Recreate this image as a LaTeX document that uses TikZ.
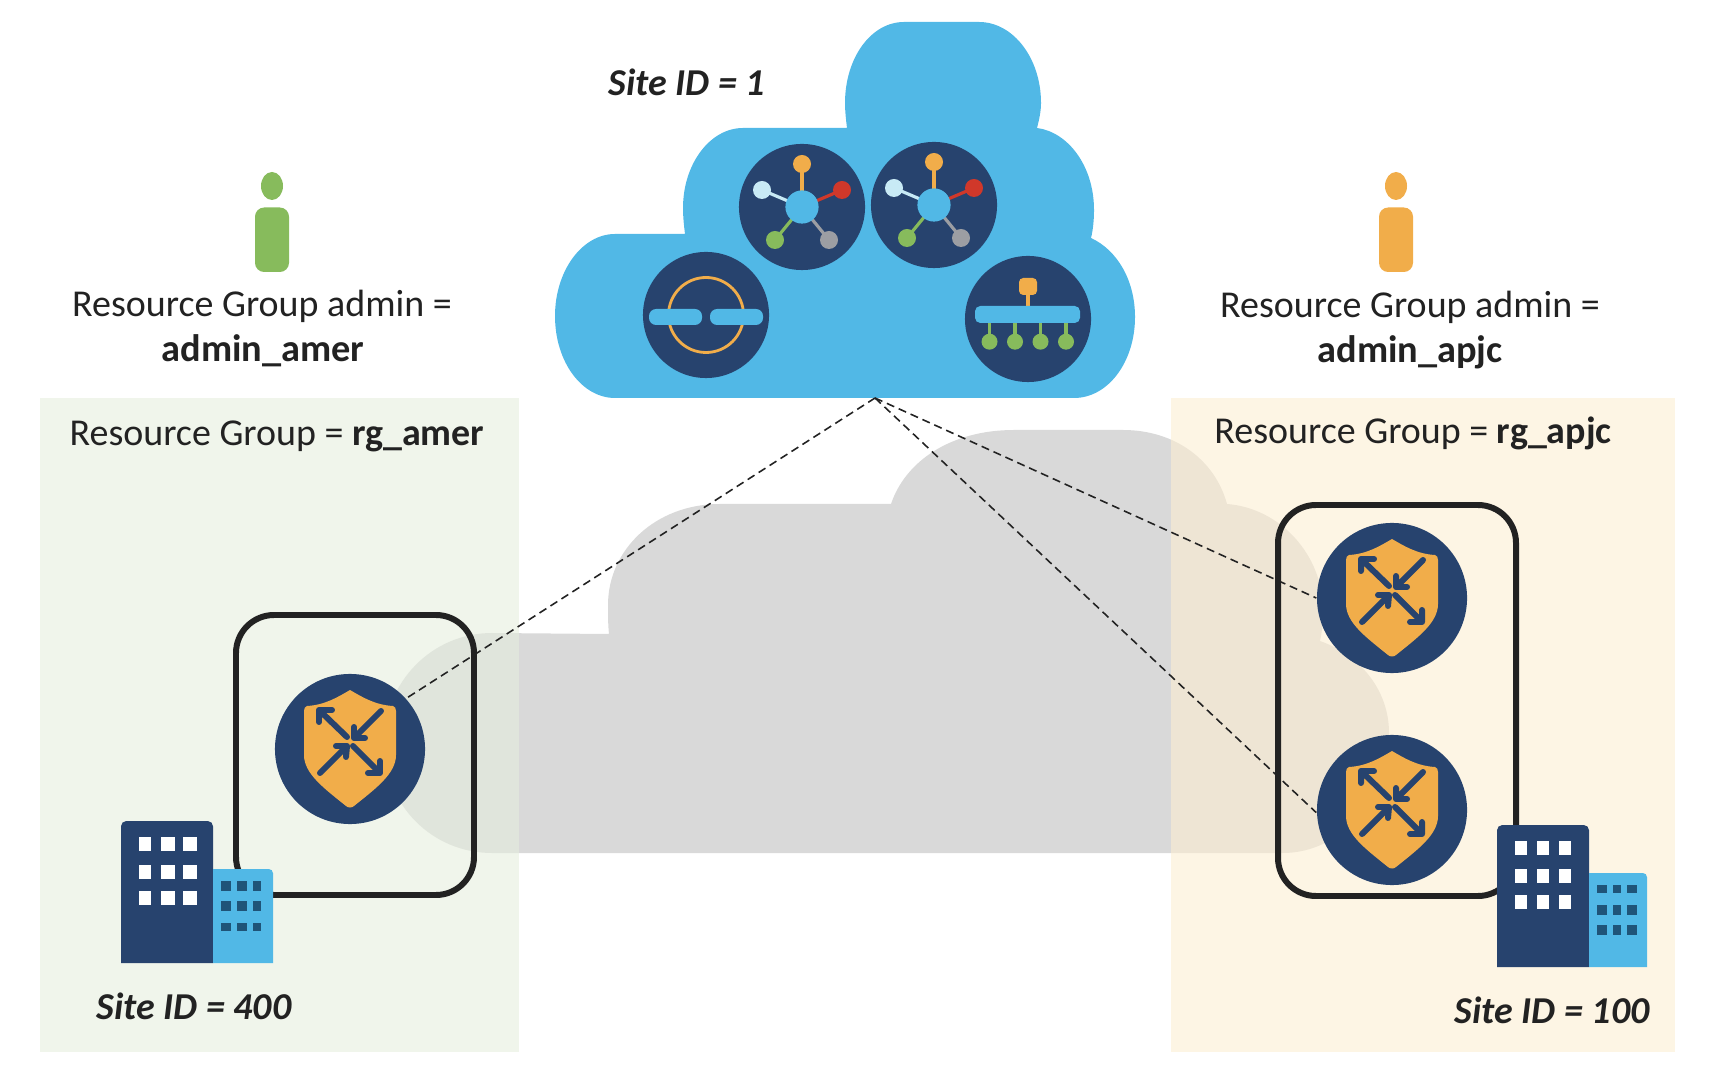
\documentclass[tikz,border=0pt]{standalone}
\usepackage{fontspec}
\setmainfont{Carlito}
\definecolor{navy}{HTML}{27436E}
\definecolor{sky}{HTML}{51B8E6}
\definecolor{amber}{HTML}{F1AD4A}
\definecolor{leaf}{HTML}{87BB5C}
\definecolor{ember}{HTML}{D0382A}
\definecolor{pale}{HTML}{C8EAF5}
\definecolor{stone}{HTML}{9C9EA3}
\definecolor{winblue}{HTML}{1F5478}
\definecolor{ink}{HTML}{222222}
\definecolor{tintgreen}{HTML}{E6EEDE}
\definecolor{tintsand}{HTML}{FCEED2}
\tikzset{
  disc/.style={circle,fill=navy,inner sep=0pt,minimum size=1.26cm},
  fwdisc/.style={circle,fill=navy,inner sep=0pt,minimum size=1.5cm},
  frame/.style={draw=ink,line width=1.7pt,rounded corners=.38cm},
  link/.style={draw=ink,line width=.45pt,dash pattern=on 2.3pt off 1.4pt},
  lab/.style={inner sep=0pt,text=ink,font=\fontsize{10.8}{12}\selectfont},
  boldlab/.style={lab,font=\fontsize{10.9}{12}\selectfont\bfseries},
  sitelab/.style={lab,font=\fontsize{10.8}{12}\selectfont\bfseries\itshape},
}
\begin{document}
\begin{tikzpicture}[x=.01cm,y=-.01cm]
  \useasboundingbox (0,0) rectangle (1710,1080);
  \fill[black!15] (492,853) .. controls (432,853) and (384,805) .. (384,743)
    .. controls (384,682) and (432,633) .. (492,633) -- (609,634)
    .. controls (608,625) and (608,615) .. (608,605)
    .. controls (608,550) and (655,504) .. (720,504) -- (891,504)
    .. controls (905,462) and (950,430) .. (1014,430) -- (1123,430)
    .. controls (1175,430) and (1215,460) .. (1227,504)
    .. controls (1280,508) and (1323,555) .. (1323,610)
    .. controls (1323,622) and (1322,632) .. (1320,641)
    .. controls (1360,655) and (1389,690) .. (1389,733)
    .. controls (1389,800) and (1340,853) .. (1283,853) -- cycle;
  \fill[tintgreen,opacity=.6] (40,398) rectangle (519,1052);
  \fill[tintsand,opacity=.6] (1171,398) rectangle (1675,1052);
  \fill[sky] (615,398) .. controls (582,398) and (555,362) .. (555,316)
    .. controls (555,271) and (582,234) .. (615,234) -- (685,234)
    .. controls (684,226) and (683,217) .. (683,208)
    .. controls (683,164) and (710,128) .. (743,128) -- (847,128)
    .. controls (846,120) and (845,111) .. (845,103)
    .. controls (845,58) and (871,22) .. (904,22) -- (979,22)
    .. controls (1013,22) and (1041,58) .. (1041,103)
    .. controls (1041,112) and (1039,120) .. (1037,128)
    .. controls (1068,132) and (1094,166) .. (1094,210)
    .. controls (1094,220) and (1093,230) .. (1091,238)
    .. controls (1117,250) and (1135,280) .. (1135,317)
    .. controls (1135,362) and (1108,398) .. (1074,398) -- cycle;
  \coordinate (apex) at (875,398);
  \draw[frame] (236,615) rectangle (474,895);
  \draw[frame] (1278,505) rectangle (1516,896);
  \foreach \nm/\cx/\cy in {fwamer/350/749,fwapjcup/1392/598,fwapjclow/1392/810} {
    \node[fwdisc] (\nm) at (\cx,\cy) {};
    \begin{scope}[shift={(\cx,\cy)}]
      \fill[amber] (0,-59) .. controls (-12,-52) and (-25,-44) .. (-43,-43)
        .. controls (-45,-42) and (-46,-41) .. (-46,-38) -- (-46,6)
        .. controls (-46,25) and (-25,40) .. (-4,57)
        .. controls (-2,59) and (2,59) .. (4,57)
        .. controls (25,40) and (46,25) .. (46,6) -- (46,-38)
        .. controls (46,-41) and (45,-42) .. (43,-43)
        .. controls (25,-44) and (12,-52) .. (0,-59) -- cycle;
      \draw[navy,line width=1.7pt,line cap=round,line join=round]
        (-3,-12) -- (-31,-39) (-18,-39) -- (-31,-39) -- (-31,-27)
        (31,-38) -- (4,-11) (4,-22) -- (4,-11) -- (15,-11)
        (-30,24) -- (-3,-3) (-14,-3) -- (-3,-3) -- (-4,8)
        (3,-3) -- (30,24) (18,24) -- (30,24) -- (30,12);
    \end{scope}
  }
  \foreach \nm/\cx/\cy in {hubleft/802/207,hubright/934/205} {
    \node[disc] (\nm) at (\cx,\cy) {};
    \begin{scope}[shift={(\cx,\cy)}]
      \foreach \dx/\dy/\col in {0/-43/amber,-40/-17/pale,40/-17/ember,-27/33/leaf,27/33/stone} {
        \draw[\col,line width=.9pt] (0,0) -- (\dx,\dy);
        \fill[\col] (\dx,\dy) circle (9);
      }
      \fill[sky] (0,0) circle (16.6);
    \end{scope}
  }
  \node[disc] (ringicon) at (706,315) {};
  \draw[amber,line width=.8pt] (ringicon) circle (37.5);
  \fill[sky,rounded corners=2pt] (649,309) rectangle (702,325) (710,309) rectangle (763,325);
  \node[disc] (busicon) at (1028,319) {};
  \draw[amber,line width=.9pt] (1028,290) -- (1028,310);
  \fill[amber,rounded corners=1.2pt] (1019,278) rectangle (1037,295);
  \foreach \bx in {989.5,1015,1040.5,1066} {
    \draw[leaf,line width=.9pt] (\bx,318) -- (\bx,340);
    \fill[leaf] (\bx,341.7) circle (8);
  }
  \fill[sky,rounded corners=1.5pt] (975,306) rectangle (1080,323);
  \draw[link] (apex) -- (fwamer.42);
  \draw[link] (apex) -- (fwapjcup.west);
  \draw[link] (apex) -- (fwapjclow.182);
  \fill[navy] (121,963) [rounded corners=1.5pt] -- (121,821) -- (213,821) [sharp corners] -- (213,963) -- cycle;
  \fill[navy] (1497,967) [rounded corners=1.5pt] -- (1497,825) -- (1589,825) [sharp corners] -- (1589,967) -- cycle;
  \fill[sky] (213,963) [sharp corners] -- (213,869) [rounded corners=1.2pt] -- (273,869) [sharp corners] -- (273,963) -- cycle;
  \fill[sky] (1589,967) [sharp corners] -- (1589,873) [rounded corners=1.2pt] -- (1647,873) [sharp corners] -- (1647,967) -- cycle;
  \foreach \wx/\ww in {139/12,161/14,183/14}
    \foreach \wy/\wh in {837/14,865/14,891/14}
      \fill[white] (\wx,\wy) rectangle ++(\ww,\wh);
  \foreach \wx/\ww in {1515/12,1537/12,1559/12}
    \foreach \wy/\wh in {841/14,869/14,895/14}
      \fill[white] (\wx,\wy) rectangle ++(\ww,\wh);
  \foreach \wx/\ww in {221/10,237/10,253/8}
    \foreach \wy/\wh in {881/10,901/10,923/8}
      \fill[winblue] (\wx,\wy) rectangle ++(\ww,\wh);
  \foreach \wx/\ww in {1597/10,1613/8,1627/10}
    \foreach \wy/\wh in {885/8,905/10,925/10}
      \fill[winblue] (\wx,\wy) rectangle ++(\ww,\wh);
  \foreach \px/\col in {272/leaf,1396/amber} {
    \fill[\col] (\px,186) ellipse (11 and 14);
    \fill[\col,rounded corners=2.6pt] (\px-17,207.5) rectangle (\px+17,272);
  }
  \node[lab] (adminamer) at (262,306) {Resource Group admin =};
  \node[boldlab] (nameamer) at (263,351) {admin\_amer};
  \node[lab] (adminapjc) at (1410,307) {Resource Group admin =};
  \node[boldlab] (nameapjc) at (1410,352) {admin\_apjc};
  \node[lab] (rgamer) at (277,436) {Resource Group = \textbf{rg\_amer}};
  \node[lab] (rgapjc) at (1413,433) {Resource Group = \textbf{rg\_apjc}};
  \node[sitelab] (siteone) at (687,82) {Site ID = 1};
  \node[sitelab] (sitefour) at (194,1006) {Site ID = 400};
  \node[sitelab] (sitehundred) at (1552,1010) {Site ID = 100};
\end{tikzpicture}
\end{document}
